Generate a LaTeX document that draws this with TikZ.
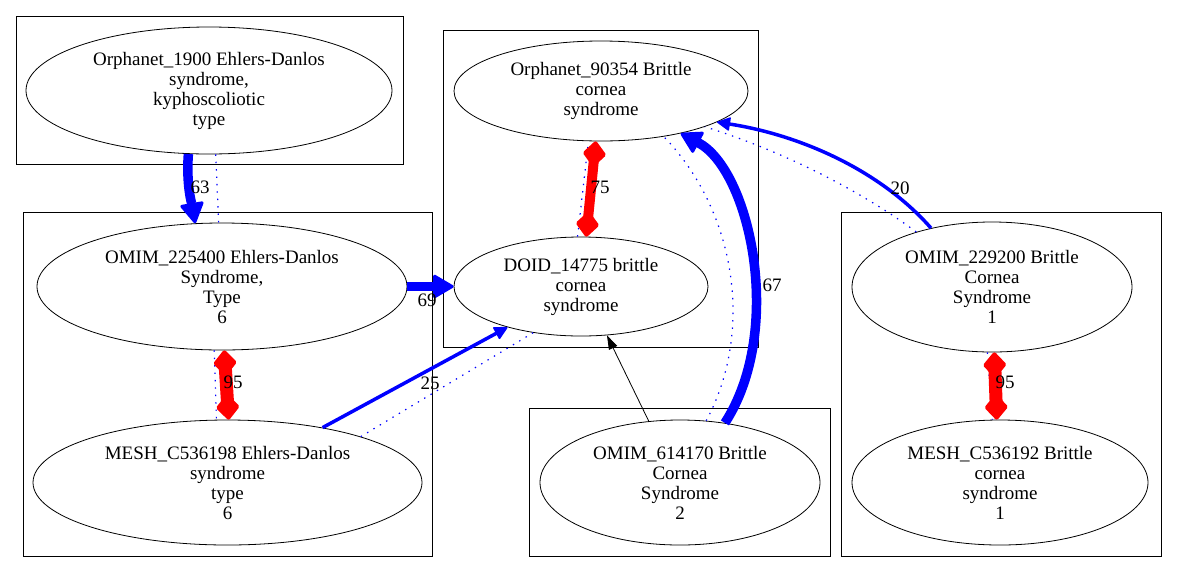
\documentclass[tikz,border=0pt]{standalone}
\usepackage{fontspec}
\setmainfont{Liberation Serif}
\usetikzlibrary{
    arrows.meta,
    shapes.geometric
}
\definecolor{linkblue}{rgb}{0, 0, 1}
\definecolor{samered}{rgb}{1, 0, 0}

\begin{document}
\begin{tikzpicture}[x=1pt, y=-1pt,
    cluster/.style={draw, line width=0.8pt, rectangle, inner sep=0pt},
    term/.style={draw, line width=0.8pt, ellipse, align=center, inner sep=0pt, font=\fontsize{19}{20}\selectfont},
    lbl/.style={inner sep=0pt, font=\fontsize{19}{20}\selectfont},
    heavy/.style={linkblue, line width=9.5pt, -{Triangle[length=22pt, width=25pt, line width=3pt, round]}},
    light/.style={linkblue, line width=3.5pt, -{Triangle[length=14pt, width=14pt, line width=1.5pt, round]}},
    hint/.style={linkblue, line width=1.2pt, dash pattern=on 1.4pt off 6pt},
    plain/.style={black, line width=0.8pt, -{Triangle[length=14pt, width=9pt]}},
    same/.style={samered, {Diamond[length=27pt, width=24pt, line width=4pt, round]}-{Diamond[length=27pt, width=24pt, line width=4pt, round]}}
]
    \useasboundingbox (0, 0) rectangle (1177, 574);

    % clusters
    \node[cluster, minimum width=387pt, minimum height=148pt] (cluster1) at (209.5, 90) {};
    \node[cluster, minimum width=409pt, minimum height=344pt] (cluster2) at (227.5, 384) {};
    \node[cluster, minimum width=315pt, minimum height=317pt] (cluster3) at (600.5, 188.5) {};
    \node[cluster, minimum width=301pt, minimum height=148pt] (cluster4) at (679.5, 482) {};
    \node[cluster, minimum width=320pt, minimum height=344pt] (cluster5) at (1001, 384) {};

    % terms
    \node[term, minimum width=366pt, minimum height=127pt] (orph1900) at (209, 90.5) {Orphanet\_1900 Ehlers-Danlos\\syndrome,\\kyphoscoliotic\\type};
    \node[term, minimum width=370pt, minimum height=127pt] (omim225400) at (222, 286.5) {OMIM\_225400 Ehlers-Danlos\\Syndrome,\\Type\\6};
    \node[term, minimum width=389pt, minimum height=125pt] (mesh536198) at (227.5, 482.5) {MESH\_C536198 Ehlers-Danlos\\syndrome\\type\\6};
    \node[term, minimum width=294pt, minimum height=100pt] (orph90354) at (601, 91) {Orphanet\_90354 Brittle\\cornea\\syndrome};
    \node[term, minimum width=254pt, minimum height=99pt] (doid14775) at (581, 286.5) {DOID\_14775 brittle\\cornea\\syndrome};
    \node[term, minimum width=280pt, minimum height=125pt] (omim614170) at (680, 482.5) {OMIM\_614170 Brittle\\Cornea\\Syndrome\\2};
    \node[term, minimum width=280pt, minimum height=130pt] (omim229200) at (992, 287) {OMIM\_229200 Brittle\\Cornea\\Syndrome\\1};
    \node[term, minimum width=296pt, minimum height=125pt] (mesh536192) at (1000, 482.5) {MESH\_C536192 Brittle\\cornea\\syndrome\\1};

    % links
    \draw[hint] (orph1900.-84) -- (omim225400.93);
    \draw[heavy] (orph1900.-108) .. controls (186, 185) and (192, 205) .. (omim225400.113);

    \draw[heavy] (omim225400.0) -- (doid14775.180);

    \draw[hint] (omim225400.-97) -- (mesh536198.100);
    \draw[same, line width=13pt] (omim225400.-88) -- (mesh536198.89);

    \draw[hint] (mesh536198.19) -- (doid14775.224);
    \draw[light] (mesh536198.30) -- (doid14775.209);

    \draw[hint] (doid14775.94) -- (orph90354.-104);
    \draw[same, line width=10pt] (doid14775.84) -- (orph90354.-96);

    \draw[plain] (omim614170.117) -- (doid14775.-62);

    \draw[hint] (omim614170.67) .. controls (755, 330) and (735, 210) .. (orph90354.-36);
    \draw[heavy] (omim614170.53) .. controls (785, 330) and (750, 170) .. (orph90354.-28);

    \draw[hint] (omim229200.144) .. controls (860, 190) and (780, 150) .. (orph90354.-19);
    \draw[light] (omim229200.136) .. controls (880, 170) and (800, 135) .. (orph90354.-15);

    \draw[hint] (omim229200.-94) -- (mesh536192.97);
    \draw[same, line width=13pt] (omim229200.-88) -- (mesh536192.93);

    % weights
    \node[lbl] (w63) at (200, 187) {63};
    \node[lbl] (w69) at (427, 300) {69};
    \node[lbl] (w95a) at (233, 382) {95};
    \node[lbl] (w25) at (430, 383) {25};
    \node[lbl] (w75) at (600, 187) {75};
    \node[lbl] (w67) at (772, 285) {67};
    \node[lbl] (w20) at (900, 188) {20};
    \node[lbl] (w95b) at (1005, 382) {95};
\end{tikzpicture}
\end{document}
